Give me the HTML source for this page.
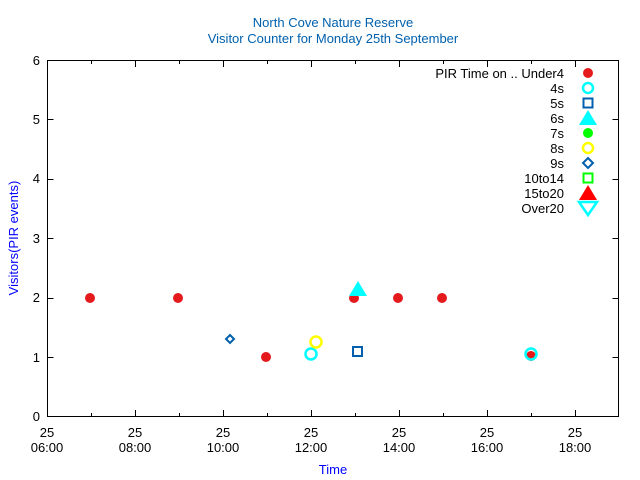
<!DOCTYPE html>
<html><head><style>body{margin:0;background:#fff}svg{display:block}</style></head><body>
<svg width="640" height="480" xmlns="http://www.w3.org/2000/svg" font-family="Liberation Sans, sans-serif" font-size="13">
<rect width="640" height="480" fill="#fff"/>
<text x="333" y="27" text-anchor="middle" fill="#0060ad" font-size="13">North Cove Nature Reserve</text>
<text x="333" y="43" text-anchor="middle" fill="#0060ad" font-size="13">Visitor Counter for Monday 25th September</text>
<rect x="47.5" y="60.5" width="571" height="356" fill="none" stroke="#000" stroke-width="1"/>
<g stroke="#000" stroke-width="1">
<path d="M47.5 357.5h6M47.5 298.5h6M47.5 238.5h6M47.5 179.5h6M47.5 119.5h6M618.5 357.5h-6M618.5 298.5h-6M618.5 238.5h-6M618.5 179.5h-6M618.5 119.5h-6"/>
<path d="M135.5 416v-6M223.5 416v-6M311.5 416v-6M399.5 416v-6M487.5 416v-6M575.5 416v-6M135.5 61v6M223.5 61v6M311.5 61v6M399.5 61v6M487.5 61v6M575.5 61v6"/>
<path d="M91.5 416v-3M179.5 416v-3M267.5 416v-3M355.5 416v-3M443.5 416v-3M531.5 416v-3M91.5 61v3M179.5 61v3M267.5 61v3M355.5 61v3M443.5 61v3M531.5 61v3"/>
</g>
<g text-anchor="end" font-size="13">
<text x="40" y="421">0</text><text x="40" y="362">1</text><text x="40" y="302">2</text><text x="40" y="243">3</text><text x="40" y="183">4</text><text x="40" y="124">5</text><text x="40" y="65">6</text>
</g>
<g text-anchor="middle" font-size="13">
<text x="47" y="437">25</text><text x="47" y="452">06:00</text>
<text x="135" y="437">25</text><text x="135" y="452">08:00</text>
<text x="223" y="437">25</text><text x="223" y="452">10:00</text>
<text x="311" y="437">25</text><text x="311" y="452">12:00</text>
<text x="399" y="437">25</text><text x="399" y="452">14:00</text>
<text x="487" y="437">25</text><text x="487" y="452">16:00</text>
<text x="575" y="437">25</text><text x="575" y="452">18:00</text>
</g>
<text x="333" y="474" text-anchor="middle" fill="#0000ff">Time</text>
<text transform="translate(18,238) rotate(-90)" text-anchor="middle" fill="#0000ff">Visitors(PIR events)</text>
<g text-anchor="end">
<text x="564" y="78">PIR Time on .. Under4</text>
<text x="564" y="93">4s</text><text x="564" y="108">5s</text><text x="564" y="123">6s</text>
<text x="564" y="138">7s</text><text x="564" y="153">8s</text><text x="564" y="168">9s</text>
<text x="564" y="183">10to14</text><text x="564" y="198">15to20</text><text x="564" y="213">Over20</text>
</g>
<circle cx="588" cy="73" r="5" fill="#e41a1c"/>
<circle cx="588" cy="88" r="5" fill="none" stroke="#00ffff" stroke-width="2.5"/>
<rect x="583.5" y="98.5" width="9" height="9" fill="none" stroke="#0060ad" stroke-width="2"/>
<polygon points="588,110 597,125 579,125" fill="#00ffff"/>
<circle cx="588" cy="133" r="5" fill="#00ff00"/>
<circle cx="588" cy="148" r="5" fill="none" stroke="#ffff00" stroke-width="2.5"/>
<polygon points="588,158 593,163 588,168 583,163" fill="none" stroke="#0060ad" stroke-width="2"/>
<rect x="583.5" y="173.5" width="9" height="9" fill="none" stroke="#00ff00" stroke-width="2"/>
<polygon points="588,185 597,200 579,200" fill="#ff0000"/>
<polygon points="579,202 597,202 588,215" fill="none" stroke="#00ffff" stroke-width="2.5"/>
<g fill="#e41a1c">
<circle cx="90" cy="298" r="5"/><circle cx="178" cy="298" r="5"/><circle cx="266" cy="357" r="5"/>
<circle cx="354" cy="298" r="5"/><circle cx="398" cy="298" r="5"/><circle cx="442" cy="298" r="5"/><circle cx="531" cy="356" r="5"/>
</g>
<polygon points="358,281 367,296 349,296" fill="#00ffff"/>
<circle cx="311" cy="354" r="5.5" fill="none" stroke="#00ffff" stroke-width="2.5"/>
<circle cx="531" cy="354" r="5.5" fill="none" stroke="#00ffff" stroke-width="2.5"/>
<circle cx="316" cy="342" r="5.5" fill="none" stroke="#ffff00" stroke-width="2.5"/>
<rect x="353" y="347" width="9" height="9" fill="none" stroke="#0060ad" stroke-width="2"/>
<polygon points="230,335 234,339 230,343 226,339" fill="none" stroke="#0060ad" stroke-width="2"/>
</svg>
</body></html>
